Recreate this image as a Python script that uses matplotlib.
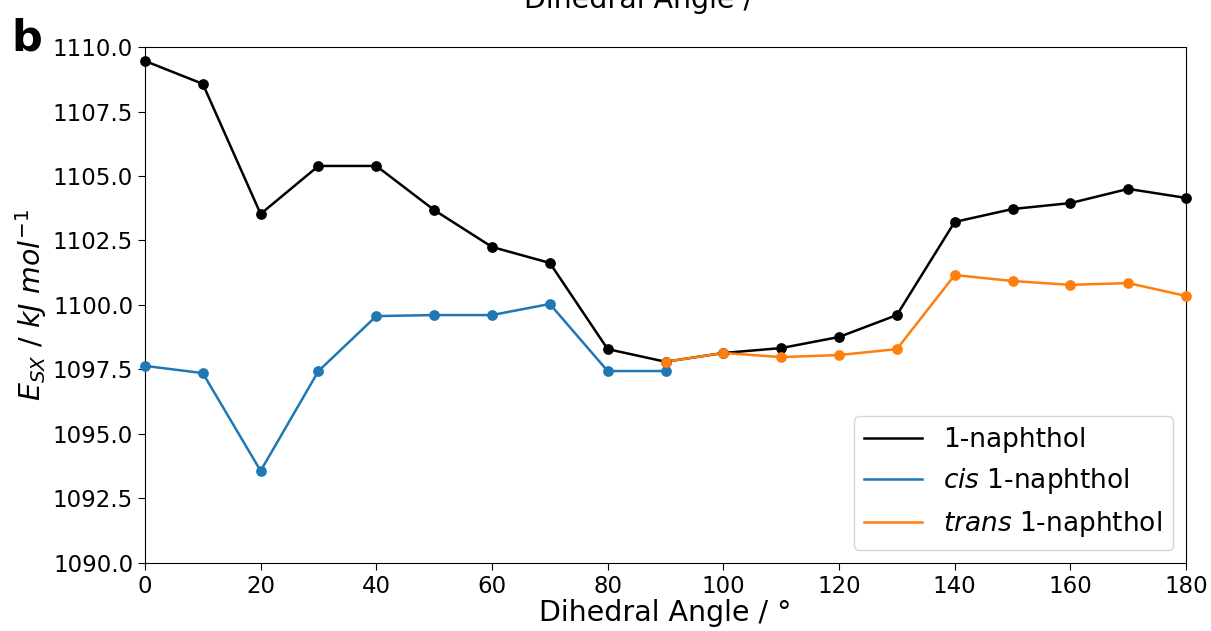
import matplotlib
matplotlib.use("Agg")
import matplotlib.pyplot as plt

angles = [0, 10, 20, 30, 40, 50, 60, 70, 80, 90, 100, 110, 120, 130, 140, 150, 160, 170, 180]
naphthol = [1109.46, 1108.57, 1103.53, 1105.39, 1105.39, 1103.68, 1102.25, 1101.63, 1098.29, 1097.80,
            1098.14, 1098.33, 1098.76, 1099.61, 1103.22, 1103.72, 1103.95, 1104.50, 1104.15]
cis_angles = [0, 10, 20, 30, 40, 50, 60, 70, 80, 90]
cis = [1097.64, 1097.36, 1093.57, 1097.44, 1099.57, 1099.61, 1099.61, 1100.04, 1097.44, 1097.44]
trans_angles = [90, 100, 110, 120, 130, 140, 150, 160, 170, 180]
trans = [1097.80, 1098.14, 1097.98, 1098.06, 1098.29, 1101.16, 1100.93, 1100.78, 1100.85, 1100.35]
yticks = [1090, 1092.5, 1095, 1097.5, 1100, 1102.5, 1105, 1107.5, 1110]

fig = plt.figure(figsize=(12.11, 6.31), dpi=100)
ax = fig.add_axes([0.1197, 0.1078, 0.8597, 0.8177])

ax.plot(angles, naphthol, color='black', linewidth=1.8, label='1-naphthol')
ax.scatter(angles, naphthol, color='black', s=45, zorder=3, clip_on=False)
ax.plot(cis_angles, cis, color='#1f77b4', linewidth=1.8, label=r'$\it{cis}$ 1-naphthol')
ax.scatter(cis_angles, cis, color='#1f77b4', s=45, zorder=3, clip_on=False)
ax.plot(trans_angles, trans, color='#ff7f0e', linewidth=1.8, label=r'$\it{trans}$ 1-naphthol')
ax.scatter(trans_angles, trans, color='#ff7f0e', s=45, zorder=4, clip_on=False)

ax.set_xlim(0, 180)
ax.set_ylim(1090, 1110)
ax.set_xticks(range(0, 181, 20))
ax.set_yticks(yticks)
ax.set_yticklabels(['%.1f' % v for v in yticks])
ax.tick_params(labelsize=16.5, length=5)
ax.set_xlabel('Dihedral Angle / °', fontsize=20.5, labelpad=1)
ax.set_ylabel(r'$E_{SX}\ /\ kJ\ mol^{-1}$', fontsize=20.5, labelpad=3)
ax.legend(loc='lower right', fontsize=19, borderaxespad=0.5, handlelength=2.2)

fig.text(0.009, 0.92, 'b', fontsize=31, fontweight='bold')
# bottom of the panel title above, cut off by the figure edge
fig.text(0.537, 1 - 8 / 631, 'Dihedral Angle / °', fontsize=20.5, ha='center', va='baseline')

plt.savefig('out.png', dpi=100)
